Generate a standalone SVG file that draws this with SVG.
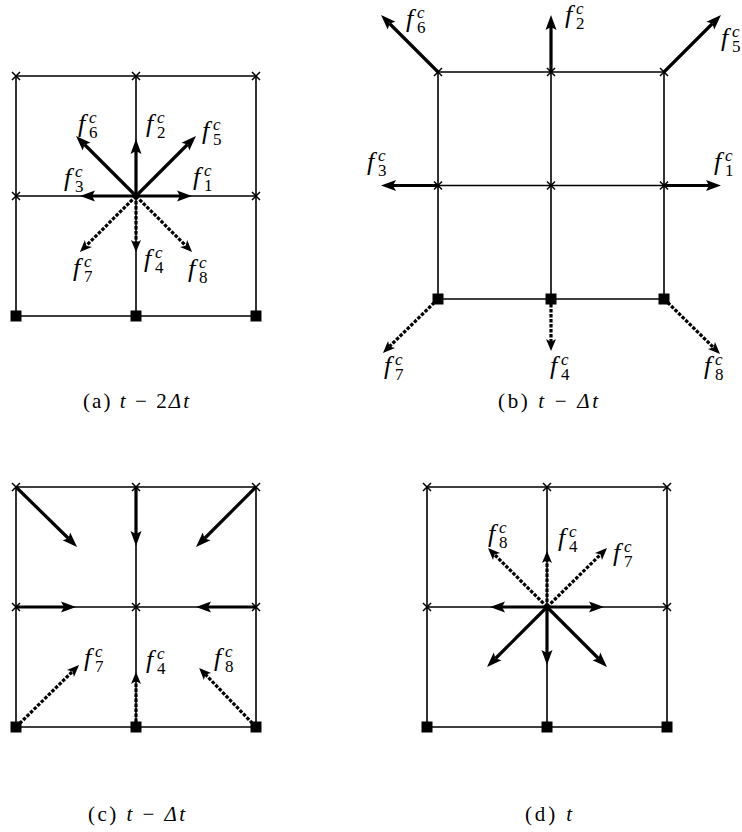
<svg xmlns="http://www.w3.org/2000/svg" xmlns:xlink="http://www.w3.org/1999/xlink" width="742" height="832" viewBox="0 0 742 832">
<defs>
<style>
.grid{stroke:#000;stroke-width:1.6;fill:none}
.sol{stroke:#000;stroke-width:3.2;fill:none;marker-end:url(#ah)}
.dsh{stroke:#000;stroke-width:3.2;fill:none;stroke-dasharray:3.5 1.5;marker-end:url(#dh)}
.f{font-family:'Liberation Serif','DejaVu Serif',serif;font-style:italic;font-size:26px;fill:#000}
.s{font-size:17px}
.n{font-style:normal}
.cap{font-family:'Liberation Serif','DejaVu Serif',serif;font-size:21px;fill:#000}
.it{font-style:italic}
</style>
<marker id="ah" markerUnits="userSpaceOnUse" orient="auto" refX="0" refY="0" markerWidth="30" markerHeight="30" viewBox="-10 -15 30 30" overflow="visible">
<path d="M-3,-5.5 L12,0 L-3,5.5 L0,0 Z" fill="#000"/>
</marker>
<marker id="dh" markerUnits="userSpaceOnUse" orient="auto" refX="0" refY="0" markerWidth="30" markerHeight="30" viewBox="-10 -15 30 30" overflow="visible">
<path d="M-3,-5 L9,0 L-3,5 L0,0 Z" fill="#000"/>
</marker>
<path id="x" d="M-4,-4 L4,4 M-4,4 L4,-4" stroke="#000" stroke-width="1.5" fill="none"/>
<rect id="sq" x="-5.5" y="-5.5" width="11" height="11" fill="#000"/>
</defs>
<rect width="742" height="832" fill="#fff"/>

<g id="panel-a">
<g id="grid-a" class="grid">
<path d="M16,76 H256 V316 H16 Z M136,76 V316 M16,196 H256"/>
</g>
<g id="nodes-a">
<g id="a-n00"><use xlink:href="#x" x="16" y="76"/></g>
<g id="a-n01"><use xlink:href="#x" x="136" y="76"/></g>
<g id="a-n02"><use xlink:href="#x" x="256" y="76"/></g>
<g id="a-n10"><use xlink:href="#x" x="16" y="196"/></g>
<g id="a-n12"><use xlink:href="#x" x="256" y="196"/></g>
<g id="a-n20"><use xlink:href="#sq" x="16" y="316"/></g>
<g id="a-n21"><use xlink:href="#sq" x="136" y="316"/></g>
<g id="a-n22"><use xlink:href="#sq" x="256" y="316"/></g>
</g>
<g id="connectors-a">
<line class="sol" x1="136" y1="196" x2="180" y2="196"/>
<line class="sol" x1="136" y1="196" x2="92" y2="196"/>
<line class="sol" x1="136" y1="196" x2="136" y2="151"/>
<line class="sol" x1="136" y1="196" x2="187.5" y2="144.5"/>
<line class="sol" x1="136" y1="196" x2="84.5" y2="144.5"/>
<line class="dsh" x1="136" y1="196" x2="86.3" y2="245.7"/>
<line class="dsh" x1="136" y1="196" x2="136" y2="243"/>
<line class="dsh" x1="136" y1="196" x2="185.7" y2="245.7"/>
</g>
<g id="labels-a">
<text class="f" x="78" y="132">f<tspan class="s" x="89" y="123">c</tspan><tspan class="s n" x="89" y="138">6</tspan></text>
<text class="f" x="146" y="132">f<tspan class="s" x="157" y="123">c</tspan><tspan class="s n" x="157" y="138">2</tspan></text>
<text class="f" x="202" y="139">f<tspan class="s" x="213" y="130">c</tspan><tspan class="s n" x="213" y="145">5</tspan></text>
<text class="f" x="64" y="186">f<tspan class="s" x="75" y="177">c</tspan><tspan class="s n" x="75" y="192">3</tspan></text>
<text class="f" x="193" y="185">f<tspan class="s" x="204" y="176">c</tspan><tspan class="s n" x="204" y="191">1</tspan></text>
<text class="f" x="73" y="276">f<tspan class="s" x="84" y="267">c</tspan><tspan class="s n" x="84" y="282">7</tspan></text>
<text class="f" x="144" y="267">f<tspan class="s" x="155" y="258">c</tspan><tspan class="s n" x="155" y="273">4</tspan></text>
<text class="f" x="188" y="277">f<tspan class="s" x="199" y="268">c</tspan><tspan class="s n" x="199" y="283">8</tspan></text>
</g>
<text id="cap-a" class="cap" x="83" y="408" textLength="106" lengthAdjust="spacing">(a) <tspan class="it">t</tspan> − 2<tspan class="it">Δt</tspan></text>
</g>

<g id="panel-b">
<g id="grid-b" class="grid">
<path d="M438,72 H664 V299 H438 Z M551,72 V299 M438,185.5 H664"/>
</g>
<g id="nodes-b">
<g id="b-n00"><use xlink:href="#x" x="438" y="72"/></g>
<g id="b-n01"><use xlink:href="#x" x="551" y="72"/></g>
<g id="b-n02"><use xlink:href="#x" x="664" y="72"/></g>
<g id="b-n10"><use xlink:href="#x" x="438" y="185.5"/></g>
<g id="b-n11"><use xlink:href="#x" x="551" y="185.5"/></g>
<g id="b-n12"><use xlink:href="#x" x="664" y="185.5"/></g>
<g id="b-n20"><use xlink:href="#sq" x="438" y="299"/></g>
<g id="b-n21"><use xlink:href="#sq" x="551" y="299"/></g>
<g id="b-n22"><use xlink:href="#sq" x="664" y="299"/></g>
</g>
<g id="connectors-b">
<line class="sol" x1="438" y1="72" x2="389.5" y2="23.5"/>
<line class="sol" x1="551" y1="72" x2="551" y2="27"/>
<line class="sol" x1="664" y1="72" x2="712.5" y2="23.5"/>
<line class="sol" x1="438" y1="185.5" x2="393" y2="185.5"/>
<line class="sol" x1="664" y1="185.5" x2="709" y2="185.5"/>
<line class="dsh" x1="438" y1="299" x2="389.4" y2="346.6"/>
<line class="dsh" x1="551" y1="299" x2="551" y2="342"/>
<line class="dsh" x1="664" y1="299" x2="713.6" y2="347.6"/>
</g>
<g id="labels-b">
<text class="f" x="406" y="27">f<tspan class="s" x="417" y="18">c</tspan><tspan class="s n" x="417" y="33">6</tspan></text>
<text class="f" x="565" y="23">f<tspan class="s" x="576" y="14">c</tspan><tspan class="s n" x="576" y="29">2</tspan></text>
<text class="f" x="721" y="46">f<tspan class="s" x="732" y="37">c</tspan><tspan class="s n" x="732" y="52">5</tspan></text>
<text class="f" x="367" y="170">f<tspan class="s" x="378" y="161">c</tspan><tspan class="s n" x="378" y="176">3</tspan></text>
<text class="f" x="714" y="170">f<tspan class="s" x="725" y="161">c</tspan><tspan class="s n" x="725" y="176">1</tspan></text>
<text class="f" x="384" y="374">f<tspan class="s" x="395" y="365">c</tspan><tspan class="s n" x="395" y="380">7</tspan></text>
<text class="f" x="550" y="374">f<tspan class="s" x="561" y="365">c</tspan><tspan class="s n" x="561" y="380">4</tspan></text>
<text class="f" x="704" y="374">f<tspan class="s" x="715" y="365">c</tspan><tspan class="s n" x="715" y="380">8</tspan></text>
</g>
<text id="cap-b" class="cap" x="498" y="408" textLength="100" lengthAdjust="spacing">(b) <tspan class="it">t</tspan> − <tspan class="it">Δt</tspan></text>
</g>

<g id="panel-c">
<g id="grid-c" class="grid">
<path d="M16,487 H256 V727 H16 Z M136,487 V727 M16,607 H256"/>
</g>
<g id="nodes-c">
<g id="c-n00"><use xlink:href="#x" x="16" y="487"/></g>
<g id="c-n01"><use xlink:href="#x" x="136" y="487"/></g>
<g id="c-n02"><use xlink:href="#x" x="256" y="487"/></g>
<g id="c-n10"><use xlink:href="#x" x="16" y="607"/></g>
<g id="c-n11"><use xlink:href="#x" x="136" y="607"/></g>
<g id="c-n12"><use xlink:href="#x" x="256" y="607"/></g>
<g id="c-n20"><use xlink:href="#sq" x="16" y="727"/></g>
<g id="c-n21"><use xlink:href="#sq" x="136" y="727"/></g>
<g id="c-n22"><use xlink:href="#sq" x="256" y="727"/></g>
</g>
<g id="connectors-c">
<line class="sol" x1="16" y1="487" x2="68.5" y2="538.5"/>
<line class="sol" x1="136" y1="487" x2="136" y2="534"/>
<line class="sol" x1="256" y1="487" x2="204.5" y2="538.5"/>
<line class="sol" x1="16" y1="607" x2="64" y2="607"/>
<line class="sol" x1="256" y1="607" x2="208" y2="607"/>
<line class="dsh" x1="16" y1="727" x2="72.6" y2="671.4"/>
<line class="dsh" x1="136" y1="727" x2="136" y2="681"/>
<line class="dsh" x1="256" y1="727" x2="205.4" y2="674.4"/>
</g>
<g id="labels-c">
<text class="f" x="84" y="666">f<tspan class="s" x="95" y="657">c</tspan><tspan class="s n" x="95" y="672">7</tspan></text>
<text class="f" x="146" y="668">f<tspan class="s" x="157" y="659">c</tspan><tspan class="s n" x="157" y="674">4</tspan></text>
<text class="f" x="214" y="666">f<tspan class="s" x="225" y="657">c</tspan><tspan class="s n" x="225" y="672">8</tspan></text>
</g>
<text id="cap-c" class="cap" x="88" y="821" textLength="97" lengthAdjust="spacing">(c) <tspan class="it">t</tspan> − <tspan class="it">Δt</tspan></text>
</g>

<g id="panel-d">
<g id="grid-d" class="grid">
<path d="M427,487 H667 V727 H427 Z M547,487 V727 M427,607 H667"/>
</g>
<g id="nodes-d">
<g id="d-n00"><use xlink:href="#x" x="427" y="487"/></g>
<g id="d-n01"><use xlink:href="#x" x="547" y="487"/></g>
<g id="d-n02"><use xlink:href="#x" x="667" y="487"/></g>
<g id="d-n10"><use xlink:href="#x" x="427" y="607"/></g>
<g id="d-n12"><use xlink:href="#x" x="667" y="607"/></g>
<g id="d-n20"><use xlink:href="#sq" x="427" y="727"/></g>
<g id="d-n21"><use xlink:href="#sq" x="547" y="727"/></g>
<g id="d-n22"><use xlink:href="#sq" x="667" y="727"/></g>
</g>
<g id="connectors-d">
<line class="sol" x1="547" y1="607" x2="502" y2="607"/>
<line class="sol" x1="547" y1="607" x2="592" y2="607"/>
<line class="sol" x1="547" y1="607" x2="547" y2="653"/>
<line class="sol" x1="547" y1="607" x2="495.5" y2="658.5"/>
<line class="sol" x1="547" y1="607" x2="598.5" y2="658.5"/>
<line class="dsh" x1="547" y1="607" x2="494.4" y2="554.4"/>
<line class="dsh" x1="547" y1="607" x2="547" y2="560"/>
<line class="dsh" x1="547" y1="607" x2="600.6" y2="554.4"/>
</g>
<g id="labels-d">
<text class="f" x="488" y="542">f<tspan class="s" x="499" y="533">c</tspan><tspan class="s n" x="499" y="548">8</tspan></text>
<text class="f" x="558" y="546">f<tspan class="s" x="569" y="537">c</tspan><tspan class="s n" x="569" y="552">4</tspan></text>
<text class="f" x="613" y="561">f<tspan class="s" x="624" y="552">c</tspan><tspan class="s n" x="624" y="567">7</tspan></text>
</g>
<text id="cap-d" class="cap" x="525" y="821" textLength="47" lengthAdjust="spacing">(d) <tspan class="it">t</tspan></text>
</g>
</svg>
